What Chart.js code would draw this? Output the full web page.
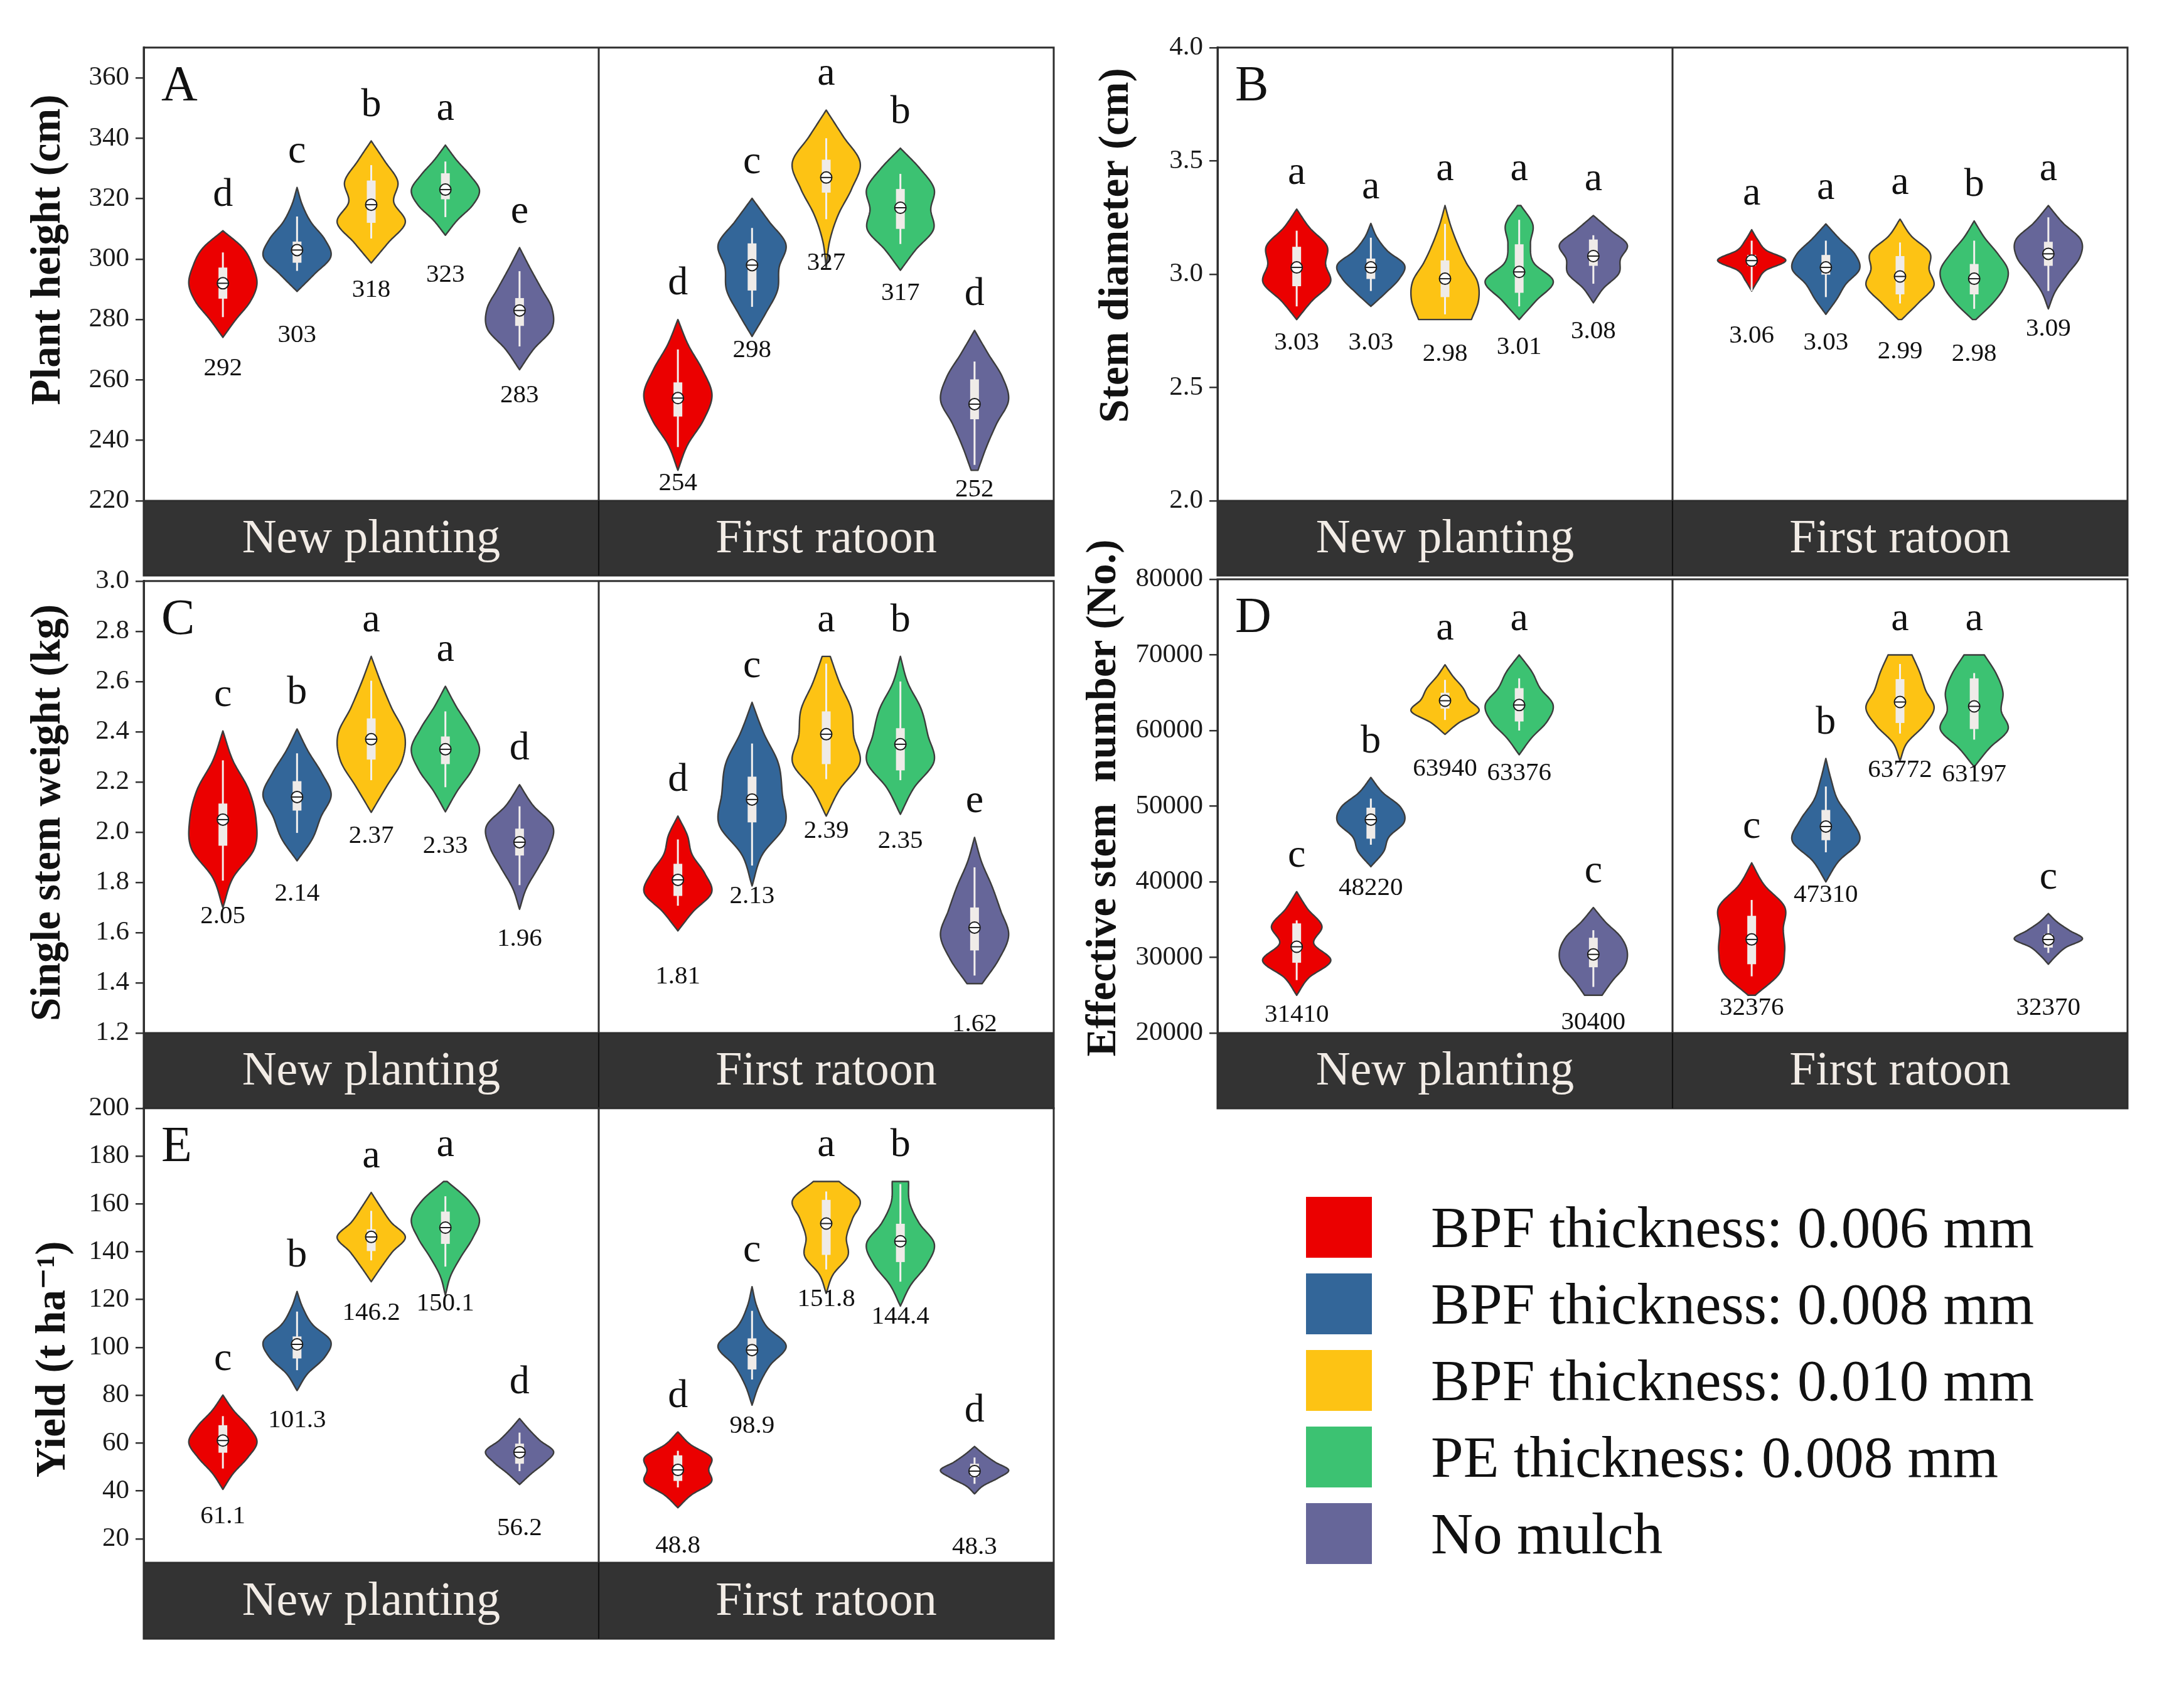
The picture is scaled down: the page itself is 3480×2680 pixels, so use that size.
<!DOCTYPE html>
<html><head><meta charset="utf-8">
<script src="https://cdn.jsdelivr.net/npm/chart.js@4.4.1/dist/chart.umd.min.js"></script>
<style>
html,body{margin:0;padding:0;background:#fff;}
#page{position:relative;width:3480px;height:2680px;overflow:hidden;background:#fff;}
canvas{position:absolute;}
.leg-sq{position:absolute;width:105px;height:97px;}
.leg-tx{position:absolute;font-family:'Liberation Serif',serif;font-size:93px;color:#111;line-height:97px;white-space:nowrap;}
</style></head><body><div id="page"></div>
<script>
// ---------------- DATA ----------------
const seasons = ['New planting', 'First ratoon'];
const treatments = ['BPF thickness: 0.006 mm', 'BPF thickness: 0.008 mm', 'BPF thickness: 0.010 mm', 'PE thickness: 0.008 mm', 'No mulch'];
const colors = ['#eb0000', '#336699', '#fdc314', '#3cc272', '#666699'];
// violin order: 5 treatments of New planting, then 5 of First ratoon
// stats per violin: [min, max, whiskerLow, q1, q3, whiskerHigh]
// shapes: relative half-width at 7 evenly spaced levels from min to max

// Panel A – plant height
const heightTicks = [220, 240, 260, 280, 300, 320, 340, 360];
const heightMeans = [292, 303, 318, 323, 283, 254, 298, 327, 317, 252];
const heightLetters = ['d', 'c', 'b', 'a', 'e', 'd', 'c', 'a', 'b', 'd'];
const heightStats = [
  [274.1, 309.4, 280.8, 286.9, 297.2, 302.2], [289.3, 323.7, 296.1, 298.8, 305.8, 314.1],
  [298.7, 339.1, 306.8, 312.0, 326.0, 331.1], [307.9, 337.7, 313.9, 319.8, 328.4, 332.3],
  [263.4, 303.8, 271.1, 277.9, 287.1, 296.0], [230.1, 280.0, 237.8, 247.9, 259.2, 270.1],
  [274.4, 320.1, 284.2, 289.6, 305.2, 310.3], [297.2, 349.3, 313.2, 322.0, 332.9, 340.0],
  [296.3, 336.7, 305.0, 310.0, 323.2, 328.2], [230.1, 276.4, 231.9, 247.0, 260.2, 266.1]];
const heightShapes = [
  [0, 0.38, 0.8, 1.0, 0.88, 0.6, 0], [0, 0.5, 0.97, 0.8, 0.4, 0.15, 0], [0, 0.5, 1.0, 0.66, 0.78, 0.4, 0],
  [0, 0.35, 0.8, 1.0, 0.72, 0.33, 0], [0, 0.4, 0.92, 0.93, 0.62, 0.3, 0], [0, 0.28, 0.75, 1.0, 0.72, 0.3, 0],
  [0, 0.4, 0.75, 0.8, 1.0, 0.5, 0], [0, 0.1, 0.35, 0.75, 1.0, 0.5, 0], [0, 0.45, 0.98, 0.9, 1.0, 0.58, 0],
  [0.1, 0.35, 0.65, 1.0, 0.82, 0.4, 0]];

// Panel B – stem diameter
const diameterTicks = [2.0, 2.5, 3.0, 3.5, 4.0];
const diameterMeans = [3.03, 3.03, 2.98, 3.01, 3.08, 3.06, 3.03, 2.99, 2.98, 3.09];
const diameterLetters = ['a', 'a', 'a', 'a', 'a', 'a', 'a', 'a', 'b', 'a'];
const diameterStats = [
  [2.800, 3.287, 2.858, 2.947, 3.121, 3.192], [2.858, 3.224, 2.926, 2.979, 3.069, 3.161],
  [2.800, 3.303, 2.823, 2.899, 3.061, 3.222], [2.800, 3.303, 2.858, 2.918, 3.132, 3.240],
  [2.874, 3.259, 2.958, 3.037, 3.153, 3.172], [2.926, 3.196, 2.926, 3.037, 3.085, 3.148],
  [2.823, 3.222, 2.899, 2.998, 3.085, 3.148], [2.800, 3.243, 2.871, 2.911, 3.080, 3.140],
  [2.800, 3.235, 2.847, 2.911, 3.045, 3.148], [2.847, 3.303, 2.926, 3.037, 3.143, 3.251]];
const diameterShapes = [
  [0, 0.45, 1.0, 0.86, 0.9, 0.38, 0], [0, 0.45, 0.85, 1.0, 0.5, 0.18, 0], [0.75, 0.95, 0.92, 0.6, 0.35, 0.15, 0],
  [0, 0.5, 1.0, 0.42, 0.33, 0.4, 0.05], [0, 0.3, 0.75, 0.8, 1.0, 0.5, 0], [0, 0.18, 0.4, 1.0, 0.42, 0.18, 0],
  [0, 0.3, 0.55, 0.93, 0.8, 0.38, 0], [0.05, 0.55, 1.0, 0.86, 0.88, 0.33, 0], [0.05, 0.55, 0.9, 1.0, 0.7, 0.3, 0],
  [0, 0.2, 0.55, 0.92, 0.95, 0.42, 0]];

// Panel C – single stem weight
const weightTicks = [1.2, 1.4, 1.6, 1.8, 2.0, 2.2, 2.4, 2.6, 2.8, 3.0];
const weightMeans = [2.05, 2.14, 2.37, 2.33, 1.96, 1.81, 2.13, 2.39, 2.35, 1.62];
const weightLetters = ['c', 'b', 'a', 'a', 'd', 'd', 'c', 'a', 'b', 'e'];
const weightStats = [
  [1.700, 2.403, 1.807, 1.946, 2.114, 2.286], [1.886, 2.411, 1.997, 2.086, 2.203, 2.314],
  [2.079, 2.700, 2.207, 2.289, 2.453, 2.603], [2.081, 2.581, 2.179, 2.271, 2.381, 2.481],
  [1.693, 2.189, 1.789, 1.907, 2.014, 2.103], [1.607, 2.064, 1.707, 1.746, 1.874, 1.971],
  [1.786, 2.517, 1.867, 2.039, 2.221, 2.353], [2.064, 2.700, 2.211, 2.271, 2.481, 2.671],
  [2.071, 2.700, 2.207, 2.246, 2.414, 2.600], [1.397, 1.979, 1.429, 1.529, 1.700, 1.860]];
const weightShapes = [
  [0, 0.3, 0.95, 1.0, 0.78, 0.3, 0], [0, 0.45, 0.7, 1.0, 0.72, 0.32, 0], [0, 0.45, 0.9, 0.97, 0.6, 0.28, 0],
  [0, 0.35, 0.78, 1.0, 0.72, 0.33, 0], [0, 0.2, 0.55, 0.88, 0.98, 0.4, 0], [0, 0.45, 1.0, 0.8, 0.42, 0.28, 0],
  [0, 0.3, 1.0, 0.92, 0.8, 0.35, 0], [0, 0.4, 1.0, 0.82, 0.75, 0.4, 0.12], [0, 0.4, 1.0, 0.82, 0.62, 0.22, 0],
  [0.22, 0.7, 0.98, 0.75, 0.5, 0.2, 0]];

// Panel D – effective stem number
const stemTicks = [20000, 30000, 40000, 50000, 60000, 70000, 80000];
const stemMeans = [31410, 48220, 63940, 63376, 30400, 32376, 47310, 63772, 63197, 32370];
const stemLetters = ['c', 'b', 'a', 'a', 'c', 'c', 'b', 'a', 'a', 'c'];
const stemStats = [
  [25000, 38700, 27000, 29300, 34500, 34900], [42000, 53800, 44900, 45700, 49800, 51000],
  [59500, 68700, 61400, 62900, 65000, 66700], [56800, 70000, 60000, 61200, 65600, 66900],
  [25000, 36600, 26100, 28700, 32600, 33600], [25000, 42500, 27500, 29100, 35500, 37600],
  [40000, 56300, 43900, 45500, 49500, 52600], [56000, 70000, 59600, 61000, 66800, 68800],
  [55200, 70000, 58800, 60200, 66900, 67600], [29100, 35800, 30600, 31300, 33100, 34400]];
const stemShapes = [
  [0, 0.35, 1.0, 0.5, 0.74, 0.32, 0], [0, 0.35, 0.5, 0.92, 0.82, 0.32, 0], [0, 0.35, 0.85, 0.6, 0.45, 0.2, 0],
  [0, 0.35, 0.8, 0.97, 0.6, 0.36, 0], [0.25, 0.55, 0.9, 0.97, 0.78, 0.35, 0], [0.1, 0.78, 0.92, 0.88, 0.92, 0.35, 0],
  [0, 0.35, 0.92, 0.7, 0.32, 0.14, 0], [0, 0.2, 0.7, 1.0, 0.75, 0.58, 0.35], [0, 0.45, 1.0, 0.8, 0.85, 0.65, 0.3],
  [0, 0.22, 0.5, 0.97, 0.6, 0.25, 0]];

// Panel E – yield
const yieldTicks = [20, 40, 60, 80, 100, 120, 140, 160, 180, 200];
const yieldMeans = [61.1, 101.3, 146.2, 150.1, 56.2, 48.8, 98.9, 151.8, 144.4, 48.3];
const yieldLetters = ['c', 'b', 'a', 'a', 'd', 'd', 'c', 'a', 'b', 'd'];
const yieldStats = [
  [40.7, 80.1, 49.4, 56.0, 67.5, 71.3], [82.0, 123.4, 90.5, 95.4, 104.6, 115.0],
  [127.5, 164.8, 136.4, 140.3, 149.4, 157.1], [121.9, 169.4, 133.8, 143.3, 156.8, 163.2],
  [42.7, 70.3, 48.3, 51.4, 59.8, 64.4], [33.0, 64.7, 41.5, 44.2, 54.9, 56.8],
  [75.9, 125.4, 86.6, 90.8, 103.8, 115.3], [122.6, 169.4, 132.6, 138.7, 161.7, 165.2],
  [117.3, 169.4, 127.5, 135.7, 151.7, 168.3], [38.8, 58.6, 43.0, 46.0, 51.4, 54.0]];
const yieldShapes = [
  [0, 0.3, 0.72, 1.0, 0.75, 0.32, 0], [0, 0.3, 0.8, 0.98, 0.45, 0.17, 0], [0, 0.3, 0.62, 1.0, 0.58, 0.28, 0],
  [0, 0.15, 0.45, 0.8, 1.0, 0.68, 0.05], [0, 0.35, 0.75, 1.0, 0.6, 0.28, 0], [0, 0.4, 1.0, 0.93, 1.0, 0.38, 0],
  [0, 0.2, 0.52, 1.0, 0.42, 0.14, 0], [0, 0.2, 0.64, 0.6, 0.78, 1.0, 0.38], [0, 0.3, 0.78, 1.0, 0.55, 0.27, 0.24],
  [0, 0.22, 0.62, 0.9, 0.55, 0.25, 0]];

// ---------------- STYLE / LAYOUT ----------------
const SERIF = "'Liberation Serif', 'DejaVu Serif', serif";
Chart.defaults.font.family = SERIF;
const STRIP_FILL = '#333333';
const LINE = '#2e2e2e';

const panels = [
  { tag: 'A', title: 'Plant height (cm)', min: 220, max: 370, ticks: heightTicks, dec: 0, means: heightMeans, letters: heightLetters, stats: heightStats, shapes: heightShapes,
    box: { left: 0, top: 40, width: 1700, height: 890 }, pad: { top: 33, right: 21, bottom: 13, left: 0 }, strip: 119, titleX: 78, titleShift: -39, valueGap: 136 },
  { tag: 'B', title: 'Stem diameter (cm)', min: 2.0, max: 4.0, ticks: diameterTicks, dec: 2, tickDec: 1, means: diameterMeans, letters: diameterLetters, stats: diameterStats, shapes: diameterShapes,
    box: { left: 1711, top: 40, width: 1769, height: 890 }, pad: { top: 33, right: 90, bottom: 13, left: 0 }, strip: 119, titleX: 1780, titleShift: -46, valueGap: 120 },
  { tag: 'C', title: 'Single stem weight (kg)', min: 1.2, max: 3.0, ticks: weightTicks, dec: 2, tickDec: 1, means: weightMeans, letters: weightLetters, stats: weightStats, shapes: weightShapes,
    box: { left: 0, top: 890, width: 1700, height: 890 }, pad: { top: 33, right: 21, bottom: 14, left: 0 }, strip: 120, titleX: 78, titleShift: 9, valueGap: 154 },
  { tag: 'D', title: 'Effective stem  number (No.)', min: 20000, max: 80000, ticks: stemTicks, dec: 0, means: stemMeans, letters: stemLetters, stats: stemStats, shapes: stemShapes,
    box: { left: 1711, top: 840, width: 1769, height: 940 }, pad: { top: 83, right: 90, bottom: 14, left: 0 }, strip: 120, titleX: 1760, titleShift: -13, valueGap: 109 },
  { tag: 'E', title: 'Yield (t ha\u207B\u00B9)', min: 10, max: 200, ticks: yieldTicks, dec: 1, tickDec: 0, means: yieldMeans, letters: yieldLetters, stats: yieldStats, shapes: yieldShapes,
    box: { left: 0, top: 1730, width: 1700, height: 900 }, pad: { top: 33, right: 21, bottom: 19, left: 0 }, strip: 121, titleX: 86, titleShift: 38, valueGap: 121 }
];

// Catmull-Rom interpolation of a width profile
function profileAt(p, u) {
  const n = p.length - 1;
  const f = u * n;
  const i = Math.min(Math.floor(f), n - 1);
  const t = f - i;
  const g = k => k < 0 ? 2 * p[0] - p[1] : (k > n ? 2 * p[n] - p[n - 1] : p[k]);
  const p0 = g(i - 1), p1 = g(i), p2 = g(i + 1), p3 = g(i + 2);
  const v = 0.5 * (2 * p1 + (-p0 + p2) * t + (2 * p0 - 5 * p1 + 4 * p2 - p3) * t * t + (-p0 + 3 * p1 - 3 * p2 + p3) * t * t * t);
  return Math.max(0, v);
}

const violinPlugin = {
  id: 'violins',
  beforeDraw(chart) {
    const { ctx, chartArea: a, scales: { x } } = chart;
    ctx.save();
    ctx.fillStyle = '#ffffff';
    ctx.fillRect(a.left, a.top, a.right - a.left, a.bottom - a.top);
    ctx.fillStyle = STRIP_FILL;
    ctx.fillRect(a.left, x.top, a.right - a.left, x.bottom - x.top);
    ctx.restore();
  },
  afterDatasetsDraw(chart, args, o) {
    const { ctx, scales: { y } } = chart;
    ctx.save();
    chart.data.datasets.forEach((ds, t) => {
      const meta = chart.getDatasetMeta(t);
      meta.data.forEach((el, s) => {
        const k = s * treatments.length + t;
        const st = o.stats[k], shape = o.shapes[k];
        const { x: cx, width: bw } = el.getProps(['x', 'width'], true);
        const half = bw / 2;
        const N = 90;
        const ws = [];
        let mx = 0;
        for (let j = 0; j <= N; j++) { const w = profileAt(shape, j / N); ws.push(w); mx = Math.max(mx, w); }
        const py = j => y.getPixelForValue(st[0] + (st[1] - st[0]) * j / N);
        ctx.beginPath();
        for (let j = 0; j <= N; j++) {
          const px = cx + ws[j] / mx * half;
          if (j === 0) ctx.moveTo(px, py(j)); else ctx.lineTo(px, py(j));
        }
        for (let j = N; j >= 0; j--) ctx.lineTo(cx - ws[j] / mx * half, py(j));
        ctx.closePath();
        ctx.fillStyle = ds.violinColor;
        ctx.fill();
        ctx.lineWidth = 2.4;
        ctx.strokeStyle = '#3c3c3c';
        ctx.lineJoin = 'round';
        ctx.stroke();
        // whisker
        ctx.strokeStyle = '#f3f0ee';
        ctx.lineWidth = 3;
        ctx.beginPath();
        ctx.moveTo(cx, y.getPixelForValue(st[2]));
        ctx.lineTo(cx, y.getPixelForValue(st[5]));
        ctx.stroke();
        // box
        ctx.fillStyle = '#efebe8';
        const bt = y.getPixelForValue(st[4]), bb = y.getPixelForValue(st[3]);
        ctx.fillRect(cx - 7, bt, 14, bb - bt);
        // mean marker
        const my = y.getPixelForValue(o.means[k]);
        ctx.beginPath();
        ctx.arc(cx, my, 9, 0, Math.PI * 2);
        ctx.fillStyle = '#ffffff';
        ctx.fill();
        ctx.lineWidth = 2;
        ctx.strokeStyle = '#1e1e1e';
        ctx.stroke();
        ctx.beginPath();
        ctx.moveTo(cx - 9, my);
        ctx.lineTo(cx + 9, my);
        ctx.stroke();
        // significance letter
        ctx.fillStyle = '#111111';
        ctx.textAlign = 'center';
        ctx.textBaseline = 'alphabetic';
        ctx.font = `64px ${SERIF}`;
        ctx.fillText(o.letters[k], cx, y.getPixelForValue(st[1]) - 40);
        // mean value label
        ctx.textBaseline = 'middle';
        ctx.font = `41px ${SERIF}`;
        ctx.fillText(o.means[k].toFixed(o.dec), cx, my + o.valueGap);
      });
    });
    ctx.restore();
  },
  afterDraw(chart, args, o) {
    const { ctx, chartArea: a, scales: { x } } = chart;
    ctx.save();
    ctx.strokeStyle = LINE;
    ctx.lineWidth = 3;
    ctx.strokeRect(a.left, a.top, a.right - a.left, x.bottom - a.top);
    ctx.beginPath();
    ctx.moveTo(a.left, a.bottom);
    ctx.lineTo(a.right, a.bottom);
    const mid = (x.getPixelForTick(0) + x.getPixelForTick(1)) / 2;
    ctx.moveTo(mid, a.top);
    ctx.lineTo(mid, x.bottom);
    ctx.stroke();
    ctx.strokeStyle = '#111111';
    ctx.lineWidth = 2;
    ctx.beginPath();
    ctx.moveTo(mid, a.bottom);
    ctx.lineTo(mid, x.bottom);
    ctx.stroke();
    // panel tag
    ctx.fillStyle = '#111111';
    ctx.font = `80px ${SERIF}`;
    ctx.textAlign = 'left';
    ctx.textBaseline = 'alphabetic';
    ctx.fillText(o.tag, a.left + 28, a.top + 84);
    // y-axis title
    ctx.translate(o.titleX, (a.top + a.bottom) / 2 + o.titleShift);
    ctx.rotate(-Math.PI / 2);
    ctx.font = `bold 67px ${SERIF}`;
    ctx.textAlign = 'center';
    ctx.textBaseline = 'middle';
    ctx.fillText(o.title, 0, 0);
    ctx.restore();
  }
};

const page = document.getElementById('page');
panels.forEach(p => {
  const cv = document.createElement('canvas');
  cv.width = p.box.width; cv.height = p.box.height;
  cv.style.left = p.box.left + 'px'; cv.style.top = p.box.top + 'px';
  cv.style.width = p.box.width + 'px'; cv.style.height = p.box.height + 'px';
  page.appendChild(cv);
  const tickDec = p.tickDec !== undefined ? p.tickDec : 0;
  new Chart(cv, {
    type: 'bar',
    data: {
      labels: seasons,
      datasets: treatments.map((name, t) => ({
        label: name,
        data: seasons.map((_, s) => [p.stats[s * treatments.length + t][0], p.stats[s * treatments.length + t][1]]),
        backgroundColor: 'rgba(0,0,0,0)',
        borderWidth: 0,
        violinColor: colors[t],
        categoryPercentage: 0.815,
        barPercentage: 0.92
      }))
    },
    options: {
      responsive: false, animation: false, devicePixelRatio: 1, events: [],
      layout: { padding: p.pad },
      plugins: {
        legend: { display: false }, tooltip: { enabled: false },
        violins: { tag: p.tag, title: p.title, titleX: p.titleX - p.box.left, titleShift: p.titleShift,
          means: p.means, letters: p.letters, stats: p.stats, shapes: p.shapes, dec: p.dec, valueGap: p.valueGap }
      },
      scales: {
        x: {
          type: 'category',
          grid: { display: false, drawTicks: false },
          border: { display: false },
          ticks: { color: '#f2ece6', font: { family: SERIF, size: 76 }, padding: Math.round(p.strip / 2 - 46) + 2, maxRotation: 0, autoSkip: false },
          afterFit: s => { s.height = p.strip; }
        },
        y: {
          type: 'linear', min: p.min, max: p.max,
          afterBuildTicks: s => { s.ticks = p.ticks.map(v => ({ value: v })); },
          afterFit: s => { s.width = 229; },
          ticks: { color: '#1a1a1a', font: { family: SERIF, size: 43 }, padding: 10, callback: v => Number(v).toFixed(tickDec) },
          grid: { drawOnChartArea: false, drawTicks: true, tickLength: 13, color: '#333333', lineWidth: 2.5 },
          border: { display: true, color: LINE, width: 3 },
          title: { display: false }
        }
      }
    },
    plugins: [violinPlugin]
  });
});

// legend
treatments.forEach((name, i) => {
  const sq = document.createElement('div');
  sq.className = 'leg-sq';
  sq.style.left = '2081px'; sq.style.top = (1907 + i * 122) + 'px';
  sq.style.background = colors[i];
  page.appendChild(sq);
  const tx = document.createElement('div');
  tx.className = 'leg-tx';
  tx.style.left = '2280px'; tx.style.top = (1907 + i * 122) + 'px';
  tx.textContent = name;
  page.appendChild(tx);
});
</script></body></html>
